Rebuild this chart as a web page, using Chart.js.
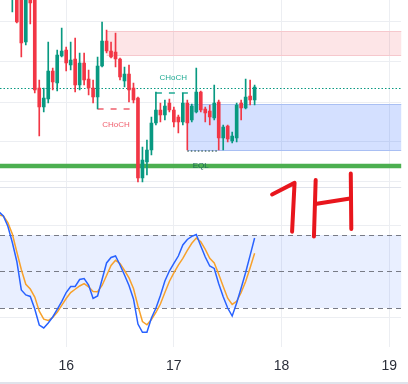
<!DOCTYPE html>
<html>
<head>
<meta charset="utf-8">
<title>1H</title>
<script src="https://cdn.jsdelivr.net/npm/chart.js@4.4.1/dist/chart.umd.min.js"></script>
<style>
  html, body { margin: 0; padding: 0; background: #fff; }
  #wrap { width: 408px; height: 382px; border-bottom: 2px solid #e0e3eb; }
  canvas { display: block; }
</style>
</head>
<body>
<div id="wrap"><canvas id="chart" width="408" height="382"></canvas></div>
<script>
// hourly candles, the first one is 12:00 on the 15th
const firstHour = 15.5;

const candleOpen = [2366, 2366.75, 2366.25, 2355, 2367.5, 2366, 2343.5, 2338.75, 2340.75, 2347.75,
  2344.75, 2351.5, 2353, 2349.25, 2350.75, 2344.25, 2349.75, 2345.75, 2343.5, 2341.25,
  2349, 2355.25, 2352.75, 2352.5, 2350.75, 2345.25, 2347, 2343.5, 2341, 2321,
  2325, 2328, 2334.75, 2338, 2336.75, 2339.75, 2338, 2336.25, 2335, 2339.75,
  2335.5, 2337.5, 2342.5, 2338.25, 2337.75, 2336, 2340, 2331, 2334, 2330.25,
  2331, 2339.75, 2338.5, 2341.5, 2340.5];
const candleHigh = [2373, 2368, 2366.75, 2366.75, 2368, 2366.5, 2345.5, 2343.5, 2355, 2348.5,
  2353, 2358.5, 2353.75, 2355, 2356, 2352.25, 2352.25, 2348, 2345.5, 2351.25,
  2360, 2358, 2355, 2357.25, 2351, 2348.75, 2349.25, 2344.75, 2341.25, 2328.75,
  2330.5, 2336.25, 2342.5, 2339.75, 2340.5, 2340.75, 2338.75, 2336.75, 2342.25, 2340.5,
  2339.5, 2348.5, 2342.75, 2338.75, 2339.25, 2344.25, 2340.5, 2334.25, 2334.25, 2332.5,
  2339.75, 2340.5, 2345.75, 2345.5, 2344.25];
const candleLow = [2362.5, 2359.75, 2351.25, 2354.25, 2359.5, 2342.25, 2331.5, 2337.5, 2339.75, 2343,
  2342.75, 2351.25, 2347.75, 2348, 2342.5, 2343, 2344.25, 2341.75, 2339.75, 2338.25,
  2348.75, 2352.25, 2351, 2348.75, 2345.5, 2343.75, 2340, 2339.75, 2320, 2320,
  2321.75, 2326.75, 2334.25, 2335, 2335.5, 2337.5, 2333.75, 2332.25, 2334.25, 2328,
  2335, 2337.25, 2337.5, 2335, 2334.25, 2335.5, 2328, 2328, 2330, 2329.75,
  2330, 2335.5, 2338.25, 2339.25, 2339.25];
const candleClose = [2371.75, 2360, 2354.75, 2366, 2364.75, 2343, 2338.75, 2341, 2347.75, 2345,
  2351.75, 2352.75, 2349.75, 2350.5, 2344.25, 2349.75, 2345.5, 2343.5, 2341.25, 2349,
  2355.25, 2352.75, 2351.25, 2350.75, 2346.25, 2347, 2343, 2340.5, 2321, 2325.5,
  2328, 2334.75, 2338, 2336.75, 2339, 2338, 2335, 2335, 2339.75, 2334.75,
  2339, 2342.5, 2338, 2337.25, 2336.25, 2339.75, 2331, 2333.75, 2330.75, 2331.5,
  2339.25, 2338.5, 2341.25, 2340.5, 2343.75];

// stochastic %K / %D, starting 3 hours before the first candle
const stochK = [99, 95.6, 87.2, 73.8, 58.2, 34.8, 30.7, 29.5, 19.2, 6.0,
  3.6, 7.7, 12.6, 18.8, 25.3, 32.7, 37.7, 37.7, 43.4, 44.2,
  38.9, 27.8, 29.9, 43.4, 57, 61.5, 62.7, 55.3, 47.1, 38.5,
  27.4, 6.8, 0, 0, 11.8, 19.8, 30.3, 42.2, 50.4, 56.6,
  62.7, 71.8, 76.3, 78.8, 80.4, 71, 61.9, 54.5, 52.5, 39.9,
  29.3, 20, 13.4, 24.1, 36.4, 49.2, 63.2, 77.5];
const stochD = [96.4, 95.6, 90.1, 80.8, 66, 51.6, 39.5, 35.6, 29, 17.4,
  10.8, 9.7, 12.2, 16.5, 22.1, 27.8, 32.7, 35.4, 38.1, 40.1,
  37.4, 33.6, 33.4, 38.5, 46.7, 54.9, 59.2, 56.6, 50.8, 44.7,
  36, 21.6, 8.9, 6.2, 10.5, 16.3, 23.3, 32.7, 41.8, 48.8,
  55.3, 60.7, 67.3, 73.2, 77.5, 74.4, 68.1, 60.8, 57, 47.7,
  37.7, 28, 22.9, 25.5, 32.7, 41.8, 53, 65];

const dayTicks = [16, 17, 18, 19];
const priceGrid = [2320, 2330, 2340, 2350, 2360];
const stochGrid = [12.5, 87.5];
const stochLevels = [80, 50, 20];

// zones and marked levels
const supplyStart = 16.375, supplyTop = 2357.75, supplyBottom = 2351.75;
const demandStart = 17.125, demandTop = 2339.5, demandBottom = 2328;
const supportLevel = 2324;
const lastPrice = 2343.6;
const chochBearFrom = 16.2917, chochBearTo = 16.634, chochBearLevel = 2338.25;
const chochBullFrom = 16.8333, chochBullTo = 17.139, chochBullLevel = 2342.25;
const eqlFrom = 17.125, eqlTo = 17.4167, eqlLevel = 2327.75;

// hand drawn "1H" (x in days, y on the oscillator scale)
const note1 = [[17.912, 113.3], [18.121, 122.8], [18.098, 82.7]];
const noteH1 = [[18.317, 125.2], [18.301, 78.8]];
const noteH2 = [[18.312, 105.5], [18.637, 110]];
const noteH3 = [[18.643, 130.5], [18.648, 84.9]];

const candleTimes = candleOpen.map((_, i) => firstHour + i / 24);
const stochTimes = stochK.map((_, i) => firstHour + (i - 3) / 24);
const candleColors = candleOpen.map((o, i) => candleClose[i] >= o ? '#089981' : '#f23645');

const font = '"Liberation Sans", Arial, sans-serif';

function hline(ctx, x1, x2, yy, color, width, dash) {
    ctx.save();
    ctx.strokeStyle = color;
    ctx.lineWidth = width;
    ctx.setLineDash(dash || []);
    ctx.beginPath();
    ctx.moveTo(x1, yy);
    ctx.lineTo(x2, yy);
    ctx.stroke();
    ctx.restore();
}

function zone(ctx, chart, start, top, bottom, fill, edge) {
    const {x, y} = chart.scales;
    const x1 = x.getPixelForValue(start), x2 = chart.chartArea.right;
    const y1 = y.getPixelForValue(top), y2 = y.getPixelForValue(bottom);
    ctx.save();
    ctx.fillStyle = fill;
    ctx.fillRect(x1, y1, x2 - x1, y2 - y1);
    ctx.restore();
    hline(ctx, x1, x2, Math.round(y1) + 0.5, edge, 1);
    hline(ctx, x1, x2, Math.round(y2) + 0.5, edge, 1);
}

function label(ctx, text, px, py, color) {
    ctx.save();
    ctx.font = '8px ' + font;
    ctx.fillStyle = color;
    ctx.textAlign = 'center';
    ctx.textBaseline = 'middle';
    ctx.fillText(text, px, py);
    ctx.restore();
}

const overlay = {
    id: 'overlay',
    beforeDatasetsDraw(chart) {
        const ctx = chart.ctx;
        const {x, y, osc} = chart.scales;
        const area = chart.chartArea;

        // pane separator
        hline(ctx, area.left, area.right, Math.round(y.bottom) - 0.5, '#e0e3eb', 1);

        zone(ctx, chart, supplyStart, supplyTop, supplyBottom, 'rgba(242,54,69,0.13)', '#f6c8cd');
        zone(ctx, chart, demandStart, demandTop, demandBottom, 'rgba(41,98,255,0.2)', '#a9bff3');

        // oscillator band
        const b1 = osc.getPixelForValue(stochLevels[0]), b2 = osc.getPixelForValue(stochLevels[2]);
        ctx.save();
        ctx.fillStyle = 'rgba(41,98,255,0.1)';
        ctx.fillRect(area.left, b1, area.right - area.left, b2 - b1);
        ctx.restore();
        stochLevels.forEach(v => {
            hline(ctx, area.left, area.right, Math.round(osc.getPixelForValue(v)) + 0.5, '#787b86', 1, [5, 4]);
        });

        hline(ctx, area.left, area.right, y.getPixelForValue(supportLevel), '#4caf50', 4.5);
        hline(ctx, area.left, area.right, Math.round(y.getPixelForValue(lastPrice)) + 0.5, '#089981', 1, [1.5, 2]);

        hline(ctx, x.getPixelForValue(chochBearFrom), x.getPixelForValue(chochBearTo),
            y.getPixelForValue(chochBearLevel), '#f0606e', 1.5, [6, 7]);
        hline(ctx, x.getPixelForValue(chochBullFrom), x.getPixelForValue(chochBullTo),
            y.getPixelForValue(chochBullLevel), '#22ab94', 1.5, [6, 7]);
        hline(ctx, x.getPixelForValue(eqlFrom), x.getPixelForValue(eqlTo),
            y.getPixelForValue(eqlLevel), '#4d6f6a', 1.5, [1.5, 2]);
    },
    afterDatasetsDraw(chart) {
        const ctx = chart.ctx;
        const {x, y, osc} = chart.scales;

        label(ctx, 'CHoCH', x.getPixelForValue(16.463), y.getPixelForValue(2334.25), '#f0606e');
        label(ctx, 'CHoCH', x.getPixelForValue(16.995), y.getPixelForValue(2346), '#22ab94');
        label(ctx, 'EQL', x.getPixelForValue(17.25), y.getPixelForValue(2324.1), '#1f6b58');

        // red marker note
        ctx.save();
        ctx.strokeStyle = '#e8161d';
        ctx.lineWidth = 4;
        ctx.lineCap = 'round';
        ctx.lineJoin = 'round';
        [note1, noteH1, noteH2, noteH3].forEach(stroke => {
            ctx.beginPath();
            stroke.forEach((p, i) => {
                const px = x.getPixelForValue(p[0]), py = osc.getPixelForValue(p[1]);
                if (i === 0) ctx.moveTo(px, py); else ctx.lineTo(px, py);
            });
            ctx.stroke();
        });
        ctx.restore();
    }
};

const ctx1 = document.getElementById('chart').getContext('2d');
new Chart(ctx1, {
    type: 'bar',
    data: {
        datasets: [
            {
                type: 'line',
                label: '%K',
                data: stochTimes.map((t, i) => ({x: t, y: stochK[i]})),
                borderColor: '#2962ff',
                borderWidth: 1.5,
                pointRadius: 0,
                yAxisID: 'osc',
                order: 0
            },
            {
                type: 'line',
                label: '%D',
                data: stochTimes.map((t, i) => ({x: t, y: stochD[i]})),
                borderColor: '#f7a12b',
                borderWidth: 1.5,
                pointRadius: 0,
                yAxisID: 'osc',
                order: 1
            },
            {
                type: 'bar',
                label: 'body',
                data: candleTimes.map((t, i) => ({x: t, y: [candleOpen[i], candleClose[i]]})),
                backgroundColor: candleColors,
                barThickness: 3,
                grouped: false,
                yAxisID: 'y',
                order: 2
            },
            {
                type: 'bar',
                label: 'wick',
                data: candleTimes.map((t, i) => ({x: t, y: [candleLow[i], candleHigh[i]]})),
                backgroundColor: candleColors,
                barThickness: 1,
                grouped: false,
                yAxisID: 'y',
                order: 3
            }
        ]
    },
    options: {
        responsive: false,
        animation: false,
        devicePixelRatio: 1,
        layout: {padding: 0},
        plugins: {legend: {display: false}, tooltip: {enabled: false}},
        scales: {
            x: {
                type: 'linear',
                min: 15.3854,
                max: 19.1114,
                offset: false,
                grid: {color: '#eceef2', drawTicks: false, offset: false},
                border: {display: false},
                ticks: {color: '#2a2e39', font: {size: 14, family: font}, padding: 11, maxRotation: 0},
                afterBuildTicks: axis => { axis.ticks = dayTicks.map(v => ({value: v})); },
                afterFit: axis => { axis.height = 35; }
            },
            y: {
                type: 'linear',
                position: 'right',
                stack: 'panes',
                stackWeight: 188,
                min: 2318.5,
                max: 2365.5,
                grid: {color: '#eceef2', drawTicks: false},
                border: {display: false},
                ticks: {display: false},
                afterBuildTicks: axis => { axis.ticks = priceGrid.map(v => ({value: v})); }
            },
            osc: {
                type: 'linear',
                position: 'right',
                stack: 'panes',
                stackWeight: 159,
                min: -12.05,
                max: 118.6,
                grid: {color: '#eceef2', drawTicks: false},
                border: {display: false},
                ticks: {display: false},
                afterBuildTicks: axis => { axis.ticks = stochGrid.map(v => ({value: v})); }
            }
        }
    },
    plugins: [overlay]
});
</script>
</body>
</html>
